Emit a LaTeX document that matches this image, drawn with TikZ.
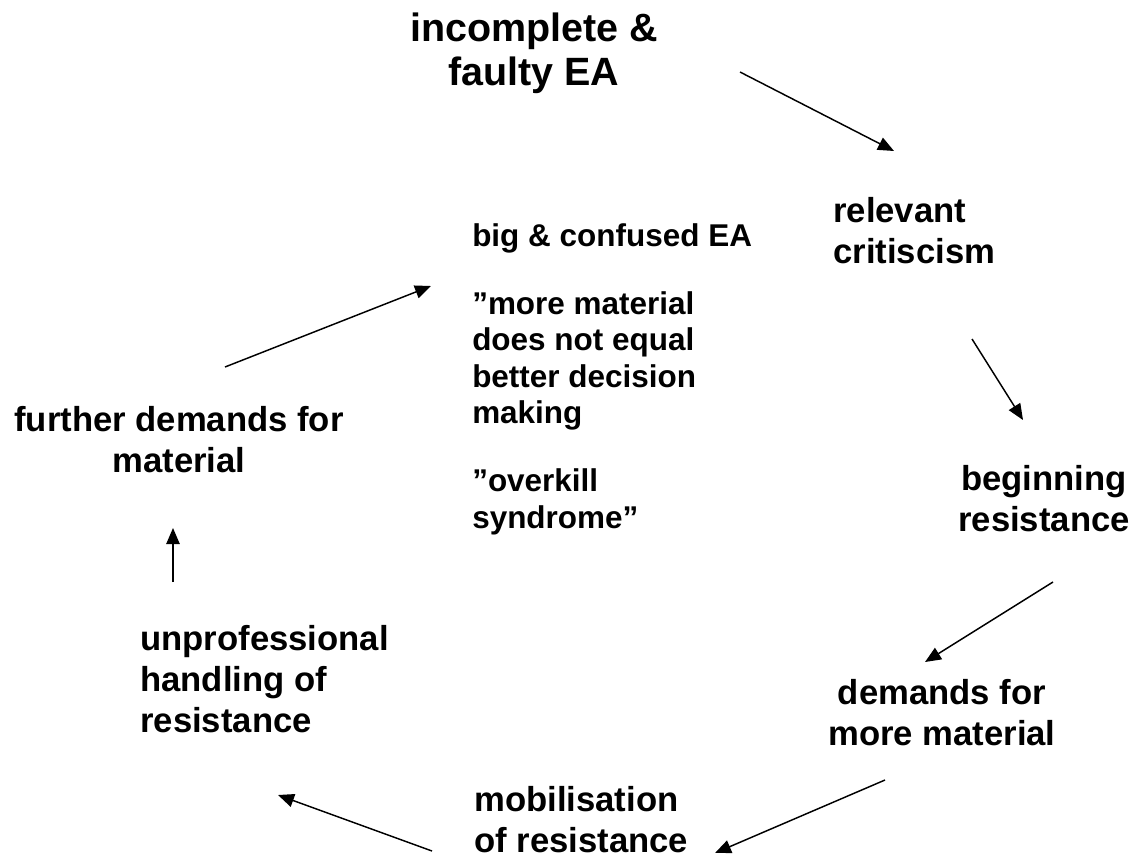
\documentclass[tikz,border=0pt]{standalone}
\usepackage{fontspec}
\setmainfont{Liberation Sans}
\usepackage{xcolor}
\usepackage{tikz}
\usetikzlibrary{arrows.meta}
\definecolor{ink}{HTML}{000000}
\tikzset{
  arrline/.style={draw=ink, line width=1.1pt, -{Triangle[length=12pt,width=10pt]}},
  tlbl/.style={text=ink, inner sep=0pt, font=\fontsize{29.6}{33}\selectfont\bfseries},
  lbl/.style={text=ink, inner sep=0pt, font=\fontsize{26}{30.75}\selectfont\bfseries},
  clbl/.style={text=ink, inner sep=0pt, font=\fontsize{23.6}{27.4}\selectfont\bfseries}
}

\begin{document}
\begin{tikzpicture}[x=0.75pt, y=-0.75pt]
  \useasboundingbox (0,0) rectangle (1139,857);

  % stages of the cycle (base = last line)
  \node[tlbl, anchor=base, align=center] (faulty) at (534,85) {incomplete \&\\faulty EA};
  \node[lbl, anchor=base west, align=left] (crit) at (833,263) {relevant\\critiscism};
  \node[lbl, anchor=base, align=center] (begin) at (1044,531) {beginning\\resistance};
  \node[lbl, anchor=base, align=center] (demand) at (942,745) {demands for\\more material};
  \node[lbl, anchor=base west, align=left] (mobil) at (474,852) {mobilisation\\of resistance};
  \node[lbl, anchor=base west, align=left] (unprof) at (140,732) {unprofessional\\handling of\\resistance};
  \node[lbl, anchor=base, align=center] (further) at (179,472) {further demands for\\material};
  \node[clbl, anchor=base west, align=left] (big) at (472,528)
    {big \& confused EA\\[23.5pt]”more material\\does not equal\\better decision\\making\\[23.5pt]”overkill\\syndrome”};

  % arrow ends
  \coordinate (S1) at (740,72);  \coordinate (T1) at (894,151);
  \coordinate (S2) at (972,339); \coordinate (T2) at (1023,420);
  \coordinate (S3) at (1053,582); \coordinate (T3) at (925,662);
  \coordinate (S4) at (885,780); \coordinate (T4) at (715,853);
  \coordinate (S5) at (432,851); \coordinate (T5) at (278,795);
  \coordinate (S6) at (173,582); \coordinate (T6) at (173,528);
  \coordinate (S7) at (225,367); \coordinate (T7) at (431,286);

  \foreach \i in {1,...,7}
    \draw[arrline] (S\i) -- (T\i);
\end{tikzpicture}
\end{document}
